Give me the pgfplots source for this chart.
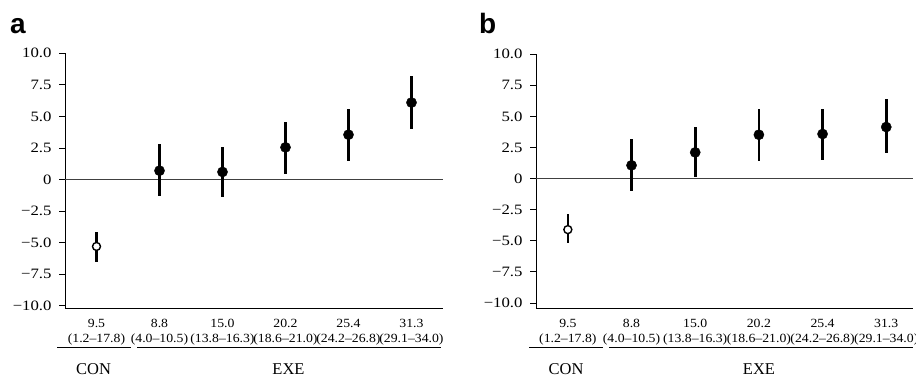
\documentclass[border=0pt]{standalone}
\usepackage{pgfplots}
\pgfplotsset{compat=1.18}
\usepackage{pgfplotstable}
\usepackage{fontspec}
\setmainfont{Liberation Serif}
\newfontfamily\labfont{Liberation Sans}
\newfontfamily\ticky[FakeStretch=1.17]{Liberation Serif}
\newfontfamily\tickx[FakeStretch=1.1]{Liberation Serif}

% x  y  ep  em
\pgfplotstableread{
x y ep em
0 -5.30 1.12 1.20
}\cona
\pgfplotstableread{
x y ep em
1 0.70 2.08 2.00
2 0.60 1.96 1.97
3 2.55 2.00 2.10
4 3.55 2.01 2.05
5 6.10 2.10 2.13
}\exea
\pgfplotstableread{
x y ep em
0 -4.10 1.23 1.07
}\conb
\pgfplotstableread{
x y ep em
1 1.07 2.12 2.03
2 2.11 2.04 2.01
3 3.53 2.09 2.08
4 3.59 2.03 2.06
5 4.15 2.22 2.12
}\exeb

\pgfplotsset{
  panel/.style={
    anchor=south west, scale only axis, width=378pt,
    axis x line=bottom, axis y line=left,
    axis line style={-, line width=0.8pt, black},
    xtick={0,1,2,3,4,5},
    xticklabels={{9.5\\(1.2–17.8)},{8.8\\(4.0–10.5)},{15.0\\(13.8–16.3)},{20.2\\(18.6–21.0)},{25.4\\(24.2–26.8)},{31.3\\(29.1–34.0)}},
    xtick style={draw=none},
    xticklabel style={align=center, font=\tickx\fontsize{12.5}{15}\selectfont, inner sep=0pt, yshift=-4pt},
    ytick={-10,-7.5,-5,-2.5,0,2.5,5,7.5,10},
    yticklabels={−10.0,−7.5,−5.0,−2.5,0,2.5,5.0,7.5,10.0},
    yticklabel style={font=\ticky\fontsize{14.3}{16}\selectfont, xshift=-4pt},
    /pgf/number format/assume math mode=true,
    tick align=outside, major tick length=6pt,
    ytick style={line width=0.8pt, black},
    clip=false,
  },
  errs/.style={only marks, black,
    error bars/y dir=both, error bars/y explicit, error bars/error mark=none,
    error bars/error bar style={line width=2.6pt, black}},
}

\begin{document}
\begin{tikzpicture}
\useasboundingbox (0,0) rectangle (916pt,-381pt);

% ---- panel a ----
\begin{axis}[panel, at={(65pt,-308.8pt)}, height=255.5pt,
  xmin=-0.5, xmax=5.5, ymin=-10.24, ymax=10]
\addplot[line width=0.7pt, gray!50!black] coordinates {(-0.5,0) (5.5,0)};
\addplot[errs, mark=*, mark size=5.1pt] table[x=x, y=y, y error plus=ep, y error minus=em] {\exea};
\addplot[errs, mark=*, mark size=4pt, mark options={fill=white, line width=1.4pt}] table[x=x, y=y, y error plus=ep, y error minus=em] {\cona};
\end{axis}

% ---- panel b ----
\begin{axis}[panel, at={(536pt,-308.8pt)}, width=377pt, height=254.5pt,
  xmin=-0.5, xmax=5.42, ymin=-10.47, ymax=10]
\addplot[line width=0.7pt, gray!50!black] coordinates {(-0.5,0) (5.42,0)};
\addplot[errs, mark=*, mark size=5.1pt] table[x=x, y=y, y error plus=ep, y error minus=em] {\exeb};
\addplot[errs, mark=*, mark size=4pt, mark options={fill=white, line width=1.4pt}] table[x=x, y=y, y error plus=ep, y error minus=em] {\conb};
\end{axis}

% group underlines and labels
\begin{scope}[line width=0.9pt]
\draw (57pt,-347.5pt) -- (131pt,-347.5pt);
\draw (137pt,-347.5pt) -- (441pt,-347.5pt);
\draw (529pt,-347.5pt) -- (603pt,-347.5pt);
\draw (609pt,-347.5pt) -- (913pt,-347.5pt);
\end{scope}
\node[font=\fontsize{16.5}{18}\selectfont, anchor=base, inner sep=0pt] at (93.5pt,-374pt) {CON};
\node[font=\fontsize{16.5}{18}\selectfont, anchor=base, inner sep=0pt] at (288.5pt,-374pt) {EXE};
\node[font=\fontsize{16.5}{18}\selectfont, anchor=base, inner sep=0pt] at (566pt,-374pt) {CON};
\node[font=\fontsize{16.5}{18}\selectfont, anchor=base, inner sep=0pt] at (759pt,-374pt) {EXE};

% panel letters
\node[font=\labfont\bfseries\fontsize{28}{30}\selectfont, anchor=base west, inner sep=0pt] at (10pt,-33pt) {a};
\node[font=\labfont\bfseries\fontsize{28}{30}\selectfont, anchor=base west, inner sep=0pt] at (479pt,-33pt) {b};
\end{tikzpicture}
\end{document}
